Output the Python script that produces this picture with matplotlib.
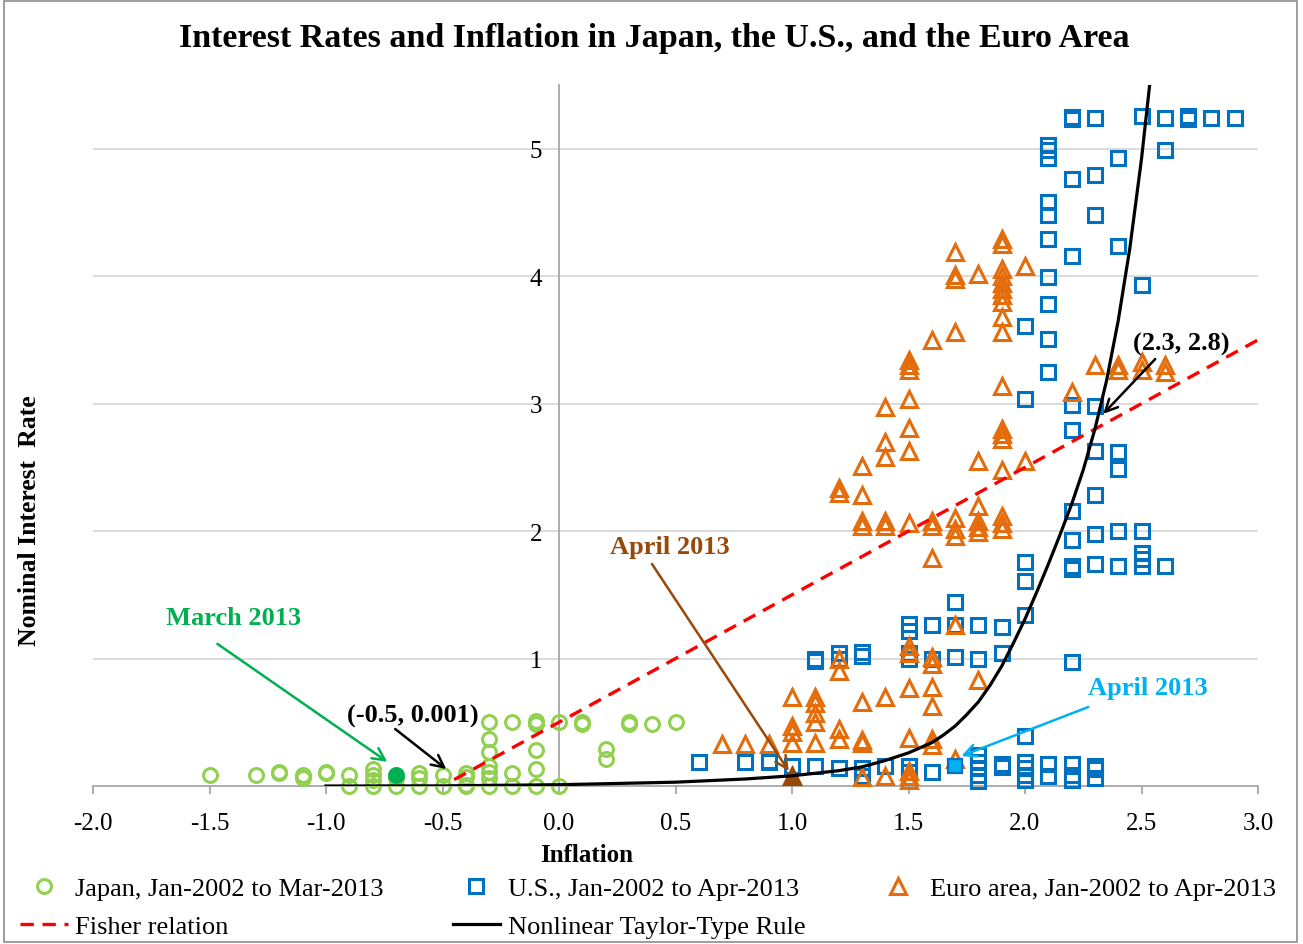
""" Interest rates and inflation scatter """
import numpy as np
import matplotlib
matplotlib.use('Agg')
import matplotlib.pyplot as plt
from matplotlib.patches import Rectangle

plt.rcParams['font.family'] = ['Liberation Serif', 'DejaVu Serif']

# Japan, Jan-2002 to Mar-2013 (inflation, nominal rate)
japan_x = [-1.5, -1.3, -1.2, -1.2, -1.1, -1.1, -1.0, -1.0, -0.9, -0.9,
           -0.8, -0.8, -0.8, -0.8, -0.7, -0.7, -0.6, -0.6, -0.6, -0.5,
           -0.5, -0.4, -0.4, -0.4, -0.4, -0.3, -0.3, -0.3, -0.3, -0.3,
           -0.3, -0.3, -0.2, -0.2, -0.2, -0.1, -0.1, -0.1, -0.1, -0.1,
           0.0, 0.0, 0.1, 0.1, 0.2, 0.2, 0.3, 0.3, 0.4, 0.5]
japan_y = [0.09, 0.09, 0.10, 0.11, 0.09, 0.06, 0.10, 0.11, 0.09, 0.0,
           0.13, 0.09, 0.05, 0.0, 0.06, 0.0, 0.10, 0.06, 0.0, 0.09,
           0.0, 0.10, 0.07, 0.0, 0.01, 0.50, 0.37, 0.27, 0.16, 0.11,
           0.06, 0.0, 0.50, 0.10, 0.0, 0.51, 0.49, 0.28, 0.13, 0.0,
           0.50, 0.0, 0.50, 0.49, 0.29, 0.21, 0.50, 0.49, 0.49, 0.50]
japan_last = (-0.7, 0.09)   # March 2013

# U.S., Jan-2002 to Apr-2013
us_x = [0.6, 0.8, 0.9, 0.9, 1.0, 1.1, 1.1, 1.1, 1.2, 1.2, 1.2,
        1.3, 1.3, 1.3, 1.3, 1.4, 1.5, 1.5, 1.5, 1.5, 1.5, 1.5,
        1.6, 1.6, 1.6, 1.7, 1.7, 1.7,
        1.8, 1.8, 1.8, 1.8, 1.8, 1.8, 1.8,
        1.9, 1.9, 1.9, 1.9,
        2.0, 2.0, 2.0, 2.0, 2.0, 2.0, 2.0, 2.0, 2.0, 2.0,
        2.1, 2.1, 2.1, 2.1, 2.1, 2.1, 2.1, 2.1, 2.1, 2.1, 2.1, 2.1,
        2.2, 2.2, 2.2, 2.2, 2.2, 2.2, 2.2, 2.2, 2.2, 2.2, 2.2, 2.2, 2.2, 2.2,
        2.3, 2.3, 2.3, 2.3, 2.3, 2.3, 2.3, 2.3, 2.3, 2.3, 2.3,
        2.4, 2.4, 2.4, 2.4, 2.4, 2.4,
        2.5, 2.5, 2.5, 2.5, 2.5, 2.5,
        2.6, 2.6, 2.6, 2.7, 2.7, 2.8, 2.9]
us_y = [0.19, 0.19, 0.19, 0.20, 0.16, 0.16, 0.98, 1.00, 0.14, 1.00, 1.04,
        0.14, 0.08, 1.02, 1.05, 0.16, 0.16, 0.11, 1.27, 1.22, 1.04, 1.00,
        0.11, 1.00, 1.26, 1.01, 1.26, 1.44,
        0.24, 0.19, 0.14, 0.09, 0.04, 1.00, 1.26,
        0.15, 0.17, 1.04, 1.25,
        0.19, 0.14, 0.09, 0.05, 0.39, 1.34, 1.61, 1.76, 3.04, 3.61,
        0.17, 0.08, 3.25, 3.51, 3.78, 3.99, 4.29, 4.48, 4.58, 4.93, 4.99, 5.03,
        0.17, 0.09, 0.05, 0.97, 1.70, 1.73, 1.93, 2.16, 2.79, 2.99, 4.16, 4.76, 5.23, 5.25,
        0.16, 0.13, 0.06, 1.74, 1.98, 2.28, 2.63, 2.98, 4.48, 4.79, 5.24,
        1.73, 2.00, 2.49, 2.62, 4.24, 4.93,
        1.73, 1.78, 1.83, 2.00, 3.93, 5.26,
        1.73, 4.99, 5.24, 5.23, 5.26, 5.24, 5.24]
us_last = (1.7, 0.16)   # April 2013

# Euro area, Jan-2002 to Apr-2013
euro_x = [0.7, 0.8, 0.9,
          1.0, 1.0, 1.0, 1.0, 1.0,
          1.1, 1.1, 1.1, 1.1, 1.1,
          1.2, 1.2, 1.2, 1.2, 1.2, 1.2,
          1.3, 1.3, 1.3, 1.3, 1.3, 1.3, 1.3, 1.3,
          1.4, 1.4, 1.4, 1.4, 1.4, 1.4, 1.4,
          1.5, 1.5, 1.5, 1.5, 1.5, 1.5, 1.5, 1.5, 1.5, 1.5, 1.5, 1.5, 1.5, 1.5,
          1.6, 1.6, 1.6, 1.6, 1.6, 1.6, 1.6, 1.6, 1.6, 1.6,
          1.7, 1.7, 1.7, 1.7, 1.7, 1.7, 1.7, 1.7, 1.7,
          1.8, 1.8, 1.8, 1.8, 1.8, 1.8, 1.8,
          1.9, 1.9, 1.9, 1.9, 1.9, 1.9, 1.9, 1.9, 1.9, 1.9, 1.9, 1.9, 1.9,
          1.9, 1.9, 1.9, 1.9, 1.9,
          2.0, 2.0, 2.2, 2.3, 2.4, 2.4, 2.5, 2.5, 2.6, 2.6]
euro_y = [0.33, 0.33, 0.33,
          0.70, 0.47, 0.42, 0.34, 0.08,
          0.70, 0.65, 0.57, 0.50, 0.34,
          1.00, 0.90, 0.45, 0.37, 2.34, 2.30,
          0.66, 0.36, 0.34, 0.07, 2.51, 2.28, 2.08, 2.04,
          0.70, 0.08, 2.97, 2.70, 2.58, 2.08, 2.04,
          1.10, 1.04, 0.77, 0.38, 0.12, 0.08, 0.05, 3.34, 3.30, 3.26, 3.04, 2.81, 2.63, 2.06,
          1.01, 0.96, 0.78, 0.63, 0.37, 0.32, 3.50, 2.08, 2.04, 1.79,
          0.21, 1.26, 4.19, 4.01, 3.98, 3.56, 2.10, 2.02, 1.96,
          0.83, 4.02, 2.55, 2.20, 2.08, 2.03, 1.99,
          4.29, 4.25, 4.06, 4.00, 3.95, 3.90, 3.85, 3.80, 3.68, 3.56, 3.14, 2.80, 2.76,
          2.72, 2.48, 2.12, 2.06, 2.02,
          4.08, 2.55, 3.09, 3.30, 3.30, 3.26, 3.33, 3.26, 3.30, 3.25]
euro_last = (1.0, 0.08)   # April 2013

# Fisher relation (dashed) end points
fisher_x = [-0.45, 3.0]
fisher_y = [0.05, 3.5]

# Nonlinear Taylor-type rule
taylor_x = [-1.0, -0.5, 0.0, 0.5, 0.8, 1.0, 1.2, 1.3, 1.4, 1.5, 1.55,
            1.6, 1.65, 1.7, 1.75, 1.8, 1.85, 1.9, 1.95, 2.0, 2.05, 2.1,
            2.15, 2.2, 2.25, 2.3, 2.35, 2.4, 2.45, 2.5, 2.55]
taylor_y = [0.0, 0.001, 0.01, 0.03, 0.055, 0.08, 0.12, 0.15, 0.2, 0.26, 0.3,
            0.34, 0.40, 0.47, 0.56, 0.66, 0.79, 0.94, 1.12, 1.31, 1.52, 1.74,
            1.97, 2.21, 2.48, 2.8, 3.18, 3.65, 4.22, 4.92, 5.75]

# annotation texts, their centres and arrow start / tip
notes = [
    ('March 2013', '#00B050', (-1.397, 1.32), (-1.466, 1.115), (-0.737, 0.19)),
    ('(-0.5, 0.001)', 'black', (-0.626, 0.557), (-0.703, 0.447), (-0.484, 0.133)),
    ('April 2013', '#984807', (0.476, 1.876), (0.399, 1.742), (0.986, 0.118)),
    ('April 2013', '#00B0F0', (2.529, 0.769), (2.272, 0.62), (1.727, 0.235)),
    ('(2.3, 2.8)', 'black', (2.67, 3.47), (2.559, 3.35), (2.336, 2.92)),
]

W, H = 1303, 945
fig = plt.figure(figsize=(W / 100, H / 100), dpi=100)
ax = fig.add_axes([93 / W, 158 / H, (1258 - 93) / W, 701 / H])

c_jp = '#92D050'
c_us = '#0070C0'
c_eu = '#E46C0A'

h_jp, = ax.plot(japan_x, japan_y, 'o', ms=10, mfc='none', mec=c_jp, mew=2.2,
                label='Japan, Jan-2002 to Mar-2013', zorder=3, clip_on=False)
h_us, = ax.plot(us_x, us_y, 's', ms=10.5, mfc='none', mec=c_us, mew=2.2,
                label='U.S., Jan-2002 to Apr-2013', zorder=3, clip_on=False)
h_eu, = ax.plot(euro_x, euro_y, '^', ms=11.5, mfc='none', mec=c_eu, mew=2.2,
                label='Euro area, Jan-2002 to Apr-2013', zorder=3, clip_on=False)
ax.plot(*japan_last, 'o', ms=10, mfc='#00B050', mec='#00B050', mew=2.2, zorder=4)
ax.plot(*us_last, 's', ms=10.5, mfc='#00B0F0', mec=c_us, mew=1.6, zorder=4)
ax.plot(*euro_last, '^', ms=11.5, mfc='#984807', mec='#984807', mew=2.2, zorder=4,
        clip_on=False)

h_fi, = ax.plot(fisher_x, fisher_y, color='#FF0000', lw=2.4,
                linestyle=(0, (4, 2.6)), label='Fisher relation', zorder=5)
h_ta, = ax.plot(taylor_x, taylor_y, color='black', lw=2.3,
                label='Nonlinear Taylor-Type Rule', zorder=5)

ax.set_xlim(-2.0, 3.0)
ax.set_ylim(0, 5.5)
ax.spines['top'].set_visible(False)
ax.spines['right'].set_visible(False)
ax.spines['left'].set_position(('data', 0))
for s in ('left', 'bottom'):
    ax.spines[s].set_color('#A6A6A6')
    ax.spines[s].set_linewidth(1.3)

xt = np.arange(-2.0, 3.01, 0.5)
ax.set_xticks(xt)
ax.set_xticklabels([f'{v:.1f}' for v in xt])
ax.set_yticks([1, 2, 3, 4, 5])
ax.tick_params(axis='x', direction='out', length=6, width=1.3, color='#A6A6A6',
               labelsize=18, pad=13)
ax.tick_params(axis='y', length=0, labelsize=18, pad=12)
ax.yaxis.grid(True, color='#D9D9D9', lw=1.3)
ax.set_axisbelow(True)

fig.suptitle('Interest Rates and Inflation in Japan, the U.S., and the Euro Area',
             x=654 / W, y=1 - 38 / H, va='center', fontsize=24.5, fontweight='bold')
fig.text(587 / W, 1 - 856 / H, 'Inflation', ha='center', va='center',
         fontsize=18, fontweight='bold')
fig.text(30 / W, 1 - 521 / H, 'Nominal Interest  Rate', ha='center', va='center',
         rotation=90, fontsize=18.5, fontweight='bold')

for txt, col, pos, start, tip in notes:
    ax.text(*pos, txt, color=col, fontsize=19, fontweight='bold',
            ha='center', va='center', zorder=6)
    ax.annotate('', xy=tip, xytext=start,
                arrowprops=dict(arrowstyle='->', color=col, lw=1.8,
                                mutation_scale=22, shrinkA=0, shrinkB=0), zorder=6)

# legend: order so that columns fill row by row
fig.legend([h_jp, h_fi, h_us, h_ta, h_eu],
           [h.get_label() for h in (h_jp, h_fi, h_us, h_ta, h_eu)],
           ncol=3, loc='upper left', bbox_to_anchor=(20 / W, 1 - 878 / H),
           frameon=False, fontsize=19, handlelength=1.8, handletextpad=0.3,
           columnspacing=2.6, labelspacing=0.55, borderpad=0, borderaxespad=0)

fig.patches.append(Rectangle((4 / W, 2 / H), 1293 / W, 941 / H, transform=fig.transFigure,
                             fill=False, edgecolor='#8C8C8C', lw=1.2))

fig.savefig('out.png', dpi=100)
